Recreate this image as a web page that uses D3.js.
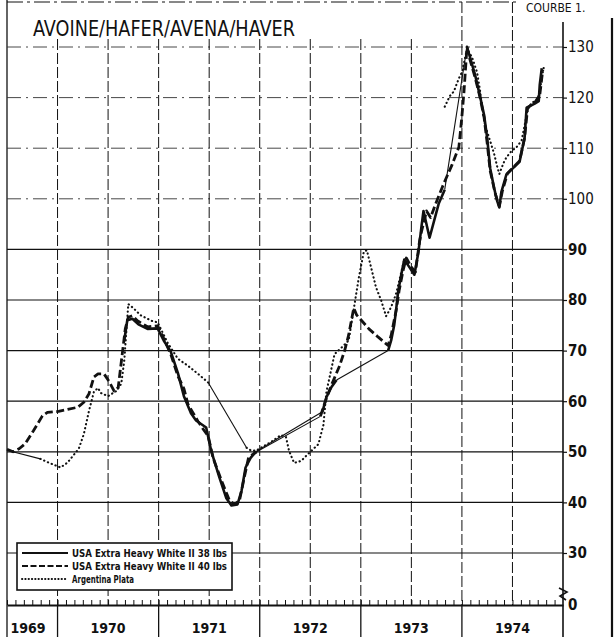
<!DOCTYPE html>
<html>
<head>
<meta charset="utf-8">
<script src="https://cdn.jsdelivr.net/npm/d3@7"></script>
<style>
  body { margin: 0; background: #fff; }
  text { font-family: "Liberation Sans Narrow", "DejaVu Sans Condensed", "Liberation Sans", Arial, sans-serif; fill: #111; }
</style>
</head>
<body>
<svg id="chart" width="615" height="637"></svg>
<script>
// Oat prices, decimal year -> price index. null breaks a line (no quotation).
const usa38 = [
  [1970.66, 72.0], [1970.69, 76.0], [1970.74, 76.3], [1970.80, 75.2], [1970.89, 74.3],
  [1970.99, 74.4], [1971.05, 72.0], [1971.12, 69.8], [1971.19, 65.6], [1971.25, 61.0],
  [1971.32, 57.6], [1971.37, 56.2], [1971.42, 55.5], [1971.47, 54.8], [1971.52, 50.2],
  [1971.60, 45.0], [1971.67, 40.8], [1971.72, 39.4], [1971.78, 39.6], [1971.82, 42.3],
  [1971.86, 46.9], [1971.91, 48.8], [1971.96, 50.0],
  null,
  [1972.62, 57.9], [1972.66, 60.8], [1972.71, 62.8], [1972.76, 64.2],
  null,
  [1973.27, 70.0], [1973.30, 72.0], [1973.33, 75.0], [1973.35, 78.2], [1973.37, 81.8],
  [1973.40, 85.0], [1973.43, 88.0], [1973.48, 86.5], [1973.53, 85.0], [1973.57, 89.5],
  [1973.60, 94.5], [1973.62, 97.6], [1973.68, 92.3], [1973.77, 99.0], [1973.83, 101.8],
  null,
  [1974.05, 130.0], [1974.08, 128.0], [1974.13, 124.5], [1974.18, 120.2], [1974.22, 116.5],
  [1974.25, 112.0], [1974.28, 106.0], [1974.32, 102.0], [1974.35, 99.5], [1974.37, 98.3],
  [1974.39, 101.3], [1974.44, 104.8], [1974.57, 107.3], [1974.62, 112.0], [1974.64, 118.0],
  [1974.72, 118.8], [1974.76, 119.3], [1974.77, 122.5], [1974.79, 125.8]
];

const usa40 = [
  [1969.50, 50.5], [1969.56, 50.0], [1969.62, 50.6], [1969.68, 51.6], [1969.76, 54.1],
  [1969.85, 57.1], [1969.90, 57.8], [1970.01, 58.0], [1970.10, 58.4], [1970.20, 58.8],
  [1970.26, 59.8], [1970.31, 61.4], [1970.36, 64.8], [1970.40, 65.4], [1970.46, 65.4],
  [1970.51, 63.9], [1970.56, 62.0], [1970.60, 62.7], [1970.64, 69.3], [1970.67, 74.3],
  [1970.70, 76.6], [1970.74, 76.9], [1970.79, 75.9], [1970.89, 74.7], [1970.99, 74.9],
  [1971.05, 72.4], [1971.12, 69.3], [1971.19, 65.0], [1971.25, 62.5], [1971.29, 59.4],
  [1971.39, 56.0], [1971.45, 54.2], [1971.49, 53.1], [1971.54, 48.7], [1971.62, 44.4],
  [1971.70, 40.4], [1971.75, 39.6], [1971.80, 40.4], [1971.85, 45.2], [1971.89, 48.9],
  [1971.97, 50.0],
  null,
  [1972.60, 57.0], [1972.66, 60.6], [1972.71, 63.2], [1972.79, 67.0], [1972.84, 70.0],
  [1972.88, 73.1], [1972.93, 78.4], [1972.96, 77.0], [1973.08, 74.3], [1973.17, 72.7],
  [1973.27, 71.0], [1973.30, 73.0], [1973.35, 78.0], [1973.38, 82.0], [1973.42, 86.0],
  [1973.45, 88.3], [1973.50, 86.5], [1973.54, 85.5], [1973.58, 91.5], [1973.60, 93.5],
  [1973.65, 97.6], [1973.69, 96.3], [1973.74, 99.0], [1973.81, 102.5], [1973.86, 104.8],
  [1973.90, 106.6], [1973.97, 110.2], [1974.00, 116.3], [1974.02, 121.0], [1974.05, 130.0],
  [1974.08, 127.5], [1974.13, 124.0], [1974.18, 120.0], [1974.22, 116.0], [1974.25, 111.0],
  [1974.28, 105.5], [1974.33, 101.0], [1974.37, 98.5], [1974.40, 101.5], [1974.45, 105.0],
  [1974.57, 107.5], [1974.62, 112.0], [1974.65, 118.0], [1974.72, 119.0], [1974.77, 120.5],
  [1974.80, 125.5]
];

const argentina = [
  [1969.83, 48.6], [1969.93, 47.7], [1970.03, 46.9], [1970.10, 47.9], [1970.21, 50.6],
  [1970.26, 53.5], [1970.31, 58.0], [1970.36, 61.9], [1970.40, 62.6], [1970.43, 61.6],
  [1970.50, 61.0], [1970.58, 62.0], [1970.63, 63.4], [1970.66, 68.0], [1970.70, 79.2],
  [1970.75, 78.4], [1970.82, 77.0], [1970.94, 75.8], [1970.99, 75.6], [1971.09, 71.5],
  [1971.19, 68.4], [1971.29, 67.0], [1971.39, 65.4], [1971.49, 63.7],
  null,
  [1971.87, 50.8], [1971.91, 50.3], [1971.96, 50.2], [1972.10, 51.8], [1972.21, 53.3],
  [1972.26, 52.9], [1972.29, 50.2], [1972.34, 47.8], [1972.41, 48.2], [1972.48, 49.6],
  [1972.58, 51.5], [1972.63, 55.3], [1972.66, 61.9], [1972.74, 69.3], [1972.81, 70.6],
  [1972.88, 72.0], [1972.93, 78.2], [1972.98, 84.4], [1973.03, 89.6], [1973.06, 89.8],
  [1973.09, 87.4], [1973.15, 82.5], [1973.20, 80.0], [1973.25, 76.8], [1973.30, 78.6],
  [1973.35, 81.3], [1973.38, 83.8], [1973.43, 88.0],
  null,
  [1973.83, 118.2], [1973.88, 120.3], [1973.92, 121.2], [1973.97, 123.8], [1974.00, 125.0],
  [1974.03, 127.7], [1974.05, 129.6], [1974.10, 128.0], [1974.15, 125.0], [1974.18, 121.3],
  [1974.20, 118.0], [1974.23, 114.5], [1974.28, 111.4], [1974.32, 108.8], [1974.35, 106.3],
  [1974.37, 104.9], [1974.41, 107.0], [1974.44, 108.2], [1974.49, 109.4], [1974.54, 110.2],
  [1974.59, 111.5], [1974.62, 114.5], [1974.65, 117.6], [1974.69, 119.0], [1974.74, 119.4],
  [1974.77, 121.0], [1974.79, 124.0], [1974.81, 126.0]
];

// Stretches without regular quotations, joined by a plain thin line.
const usa38Links = [
  [[1971.96, 50.0], [1972.62, 57.9]],
  [[1972.76, 64.2], [1973.27, 70.0]],
  [[1973.83, 101.8], [1974.05, 130.0]]
];
const usa40Links = [
  [[1971.97, 50.0], [1972.60, 57.0]]
];
const argentinaLinks = [
  [[1969.50, 50.3], [1969.83, 48.6]],
  [[1971.49, 63.7], [1971.87, 50.8]]
];

const yTicks = [30, 40, 50, 60, 70, 80, 90, 100, 110, 120, 130];
const years = [1969, 1970, 1971, 1972, 1973, 1974];
const seriesNames = [
  "USA Extra Heavy White II 38 lbs",
  "USA Extra Heavy White II 40 lbs",
  "Argentina Plata"
];
const title = "AVOINE/HAFER/AVENA/HAVER";
const sheetLabel = "COURBE 1.";

// ---- layout ----
const svg = d3.select("#chart");
const x = d3.scaleLinear().domain([1969.5, 1975]).range([7, 563]);
const y = d3.scaleLinear().domain([30, 130]).range([553, 47]);
const baseY = 605;      // broken-axis zero line
const ink = "#111";

// frame
svg.append("line").attr("x1", 7).attr("x2", 7).attr("y1", 0).attr("y2", 637)
  .attr("stroke", ink).attr("stroke-width", 1.3);
svg.append("line").attr("x1", 612).attr("x2", 612).attr("y1", 18).attr("y2", 637)
  .attr("stroke", ink).attr("stroke-width", 2.2);
svg.append("line").attr("x1", 7).attr("x2", 520).attr("y1", 2).attr("y2", 2)
  .attr("stroke", ink).attr("stroke-width", 1).attr("stroke-dasharray", "16,4,3,4");
svg.append("text").attr("x", 526).attr("y", 12).attr("font-size", 12)
  .text(sheetLabel);

// horizontal grid
svg.append("g").selectAll("line").data(yTicks).join("line")
  .attr("x1", x.range()[0]).attr("x2", x.range()[1])
  .attr("y1", d => y(d)).attr("y2", d => y(d))
  .attr("stroke", d => d >= 100 ? "#333" : ink)
  .attr("stroke-width", d => d >= 100 ? 0.9 : 1.2)
  .attr("stroke-dasharray", d => d >= 100 ? "14,5,2,5" : null);

// vertical grid every half year
const halfYears = d3.range(1970, 1975, 0.5);
svg.append("g").selectAll("line").data(halfYears).join("line")
  .attr("x1", d => x(d)).attr("x2", d => x(d))
  .attr("y1", d => d >= 1974 ? 2 : y(130) - 8).attr("y2", baseY)
  .attr("stroke", ink).attr("stroke-width", 1)
  .attr("stroke-dasharray", "11,3");

// year separators below the time axis
svg.append("g").selectAll("line").data(d3.range(1970, 1975)).join("line")
  .attr("x1", d => x(d)).attr("x2", d => x(d))
  .attr("y1", baseY).attr("y2", 637)
  .attr("stroke", ink).attr("stroke-width", 1.3);

// right value axis
svg.append("line").attr("x1", x(1975)).attr("x2", x(1975)).attr("y1", 22).attr("y2", 637)
  .attr("stroke", ink).attr("stroke-width", 1.6);
const yAxis = svg.append("g").attr("transform", `translate(${x(1975)},0)`)
  .call(d3.axisRight(y).tickValues(yTicks).tickSize(4).tickPadding(1).tickFormat(d3.format("d")));
yAxis.select(".domain").remove();
yAxis.selectAll(".tick line").attr("stroke", ink).attr("stroke-width", 1.2);
yAxis.selectAll(".tick text")
  .attr("font-size", 15)
  .attr("font-weight", d => d >= 100 ? "normal" : "bold")
  .attr("fill", ink)
  .style("font-family", '"Liberation Sans Narrow", "DejaVu Sans Condensed", "Liberation Sans", sans-serif');

// zero label and axis break
svg.append("text").attr("x", 568).attr("y", baseY + 5).attr("font-size", 15)
  .attr("font-weight", "bold").text("0");
svg.append("path")
  .attr("d", `M${x(1975) - 4},${baseY - 17} L${x(1975) + 4},${baseY - 13} L${x(1975) - 3},${baseY - 9} L${x(1975) + 3},${baseY - 5}`)
  .attr("fill", "none").attr("stroke", ink).attr("stroke-width", 1.6);

// time axis with monthly ticks
const months = d3.range(0, 66).map(i => 1969.5 + i / 12);
const xAxis = svg.append("g").attr("transform", `translate(0,${baseY})`)
  .call(d3.axisTop(x).tickValues(months).tickSize(5).tickSizeOuter(0).tickFormat(""));
xAxis.select(".domain").attr("stroke", ink).attr("stroke-width", 1.8);
xAxis.selectAll(".tick line").attr("stroke", ink).attr("stroke-width", 1);

svg.append("g").selectAll("text").data(years).join("text")
  .attr("x", d => d === 1969 ? x(1969.5) + 21 : x(d + 0.5))
  .attr("y", 633)
  .attr("text-anchor", "middle")
  .attr("font-size", 14).attr("font-weight", "bold")
  .text(d => d);

// title
svg.append("text").attr("x", 33).attr("y", 36)
  .attr("font-size", 21)
  .attr("textLength", 262).attr("lengthAdjust", "spacingAndGlyphs")
  .text(title);

// ---- series ----
const line = d3.line()
  .defined(d => d !== null)
  .x(d => x(d[0])).y(d => y(d[1]));

const styles = [
  { data: usa38, links: usa38Links, width: 2.6, dash: null, cap: "butt" },
  { data: usa40, links: usa40Links, width: 2.8, dash: "8,3.5", cap: "butt" },
  { data: argentina, links: argentinaLinks, width: 2.1, dash: "0.3,3.8", cap: "round" }
];

const linkLayer = svg.append("g");
styles.forEach(s => {
  linkLayer.selectAll(null).data(s.links).join("path")
    .attr("d", line).attr("fill", "none")
    .attr("stroke", ink).attr("stroke-width", 1.1);
});

const seriesLayer = svg.append("g");
styles.forEach(s => {
  seriesLayer.append("path").datum(s.data)
    .attr("d", line).attr("fill", "none")
    .attr("stroke", ink).attr("stroke-width", s.width)
    .attr("stroke-dasharray", s.dash)
    .attr("stroke-linecap", s.cap)
    .attr("stroke-linejoin", "round");
});

// ---- legend ----
const legend = svg.append("g");
legend.append("rect").attr("x", 17).attr("y", 543).attr("width", 215).attr("height", 47)
  .attr("fill", "#fff").attr("stroke", ink).attr("stroke-width", 1.6);
const rows = legend.selectAll("g.row").data(styles).join("g")
  .attr("transform", (d, i) => `translate(0,${553 + i * 13})`);
rows.append("line").attr("x1", 22).attr("x2", 68).attr("y1", 0).attr("y2", 0)
  .attr("stroke", ink)
  .attr("stroke-width", d => Math.min(d.width, 2))
  .attr("stroke-dasharray", d => d.dash === null ? null : (d.cap === "round" ? "0.3,3" : "6,2.5"))
  .attr("stroke-linecap", d => d.cap);
rows.append("text").attr("x", 72).attr("y", 3.5)
  .attr("font-size", 10).attr("font-weight", "bold")
  .attr("textLength", (d, i) => i === 2 ? 62 : 155).attr("lengthAdjust", "spacingAndGlyphs")
  .text((d, i) => seriesNames[i]);
</script>
</body>
</html>
